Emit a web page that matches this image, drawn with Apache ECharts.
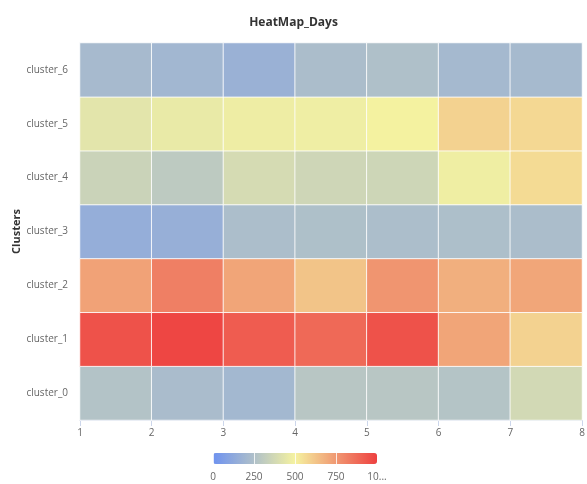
<!DOCTYPE html>
<html>
<head>
<meta charset="utf-8">
<script src="https://cdn.jsdelivr.net/npm/echarts@6/dist/echarts.min.js"></script>
<style>html,body{margin:0;padding:0;background:#fff}#c{width:587px;height:484px}</style>
</head>
<body>
<div id="c"></div>
<script>
const xCells = ['1','2','3','4','5','6','7'];
const xTicks = [1,2,3,4,5,6,7,8];
const clusters = ['cluster_0','cluster_1','cluster_2','cluster_3','cluster_4','cluster_5','cluster_6'];
const cluster_0 = [265, 230, 205, 282, 282, 268, 375];
const cluster_1 = [950, 983, 920, 883, 950, 715, 588];
const cluster_2 = [722, 820, 715, 629, 758, 685, 712];
const cluster_3 = [150, 158, 240, 248, 240, 242, 235];
const cluster_4 = [345, 300, 385, 360, 358, 480, 563];
const cluster_5 = [435, 458, 475, 478, 498, 588, 572];
const cluster_6 = [220, 200, 170, 235, 250, 210, 215];
const legendTicks = [0, 250, 500, 750, 1000];
const rows = [cluster_0, cluster_1, cluster_2, cluster_3, cluster_4, cluster_5, cluster_6];

const data = [];
rows.forEach((r, yi) => r.forEach((v, xi) => data.push([xi, yi, v])));

const font = "'Open Sans', 'Noto Sans', sans-serif";
const chart = echarts.init(document.getElementById('c'));
chart.setOption({
  animation: false,
  backgroundColor: '#fff',
  title: {
    text: 'HeatMap_Days', left: 'center', top: 12,
    textStyle: {fontFamily: font, fontSize: 12, fontWeight: 'bold', color: '#333'}
  },
  grid: [
    {left: 80, right: 5, top: 43, bottom: 64, containLabel: false, outerBoundsMode: 'none'},
    {left: 213, width: 164, top: 453, height: 11, outerBoundsMode: 'none'}
  ],
  xAxis: [
    {type: 'category', data: xCells, gridIndex: 0, position: 'bottom',
     axisLabel: {show: false}, axisTick: {show: false},
     axisLine: {show: true, lineStyle: {color: '#ccd6eb'}}, splitLine: {show: false}},
    {type: 'value', gridIndex: 0, min: xTicks[0], max: xTicks[xTicks.length - 1], interval: 1, position: 'bottom',
     axisLine: {show: false}, splitLine: {show: false},
     axisTick: {show: true, length: 6, lineStyle: {color: '#ccd6eb'}},
     axisLabel: {color: '#666', fontFamily: font, fontSize: 10, margin: 8,
       showMinLabel: true, showMaxLabel: true}},
    {type: 'value', gridIndex: 1, min: legendTicks[0], max: legendTicks[legendTicks.length - 1],
     interval: legendTicks[1] - legendTicks[0], z: 10,
     axisLine: {show: false}, axisTick: {show: false},
     splitLine: {show: true, lineStyle: {color: 'rgba(255,255,255,0.8)', width: 1}},
     axisLabel: {color: '#666', fontFamily: font, fontSize: 10, margin: 8,
       formatter: v => v === 1000 ? '10...' : String(v)}}
  ],
  yAxis: [
    {type: 'category', data: clusters, gridIndex: 0,
     axisLine: {show: false}, axisTick: {show: false}, splitLine: {show: false},
     axisLabel: {color: '#666', fontFamily: font, fontSize: 10, margin: 12},
     name: 'Clusters', nameLocation: 'middle', nameGap: 58, nameRotate: 90, nameMoveOverlap: false,
     nameTextStyle: {color: '#333', fontFamily: font, fontSize: 11, fontWeight: 'bold'}},
    {type: 'value', gridIndex: 1, show: false, min: 0, max: 1}
  ],
  visualMap: {
    type: 'continuous', min: 0, max: 1000, calculable: false,
    orient: 'horizontal', left: 198, top: 438, itemWidth: 11, itemHeight: 164,
    text: null, showLabel: false, seriesIndex: 0, z: 4,
    textStyle: {color: 'transparent'},
    inRange: {color: ['#6e92f0', '#afc0c9', '#f5f2a0', '#f09872', '#ee4040']}
  },
  series: [{
    type: 'heatmap', xAxisIndex: 0, yAxisIndex: 0, data: data,
    itemStyle: {borderColor: 'rgba(255,255,255,0.85)', borderWidth: 1},
    label: {show: false}, emphasis: {disabled: true}
  }]
});
</script>
</body>
</html>
